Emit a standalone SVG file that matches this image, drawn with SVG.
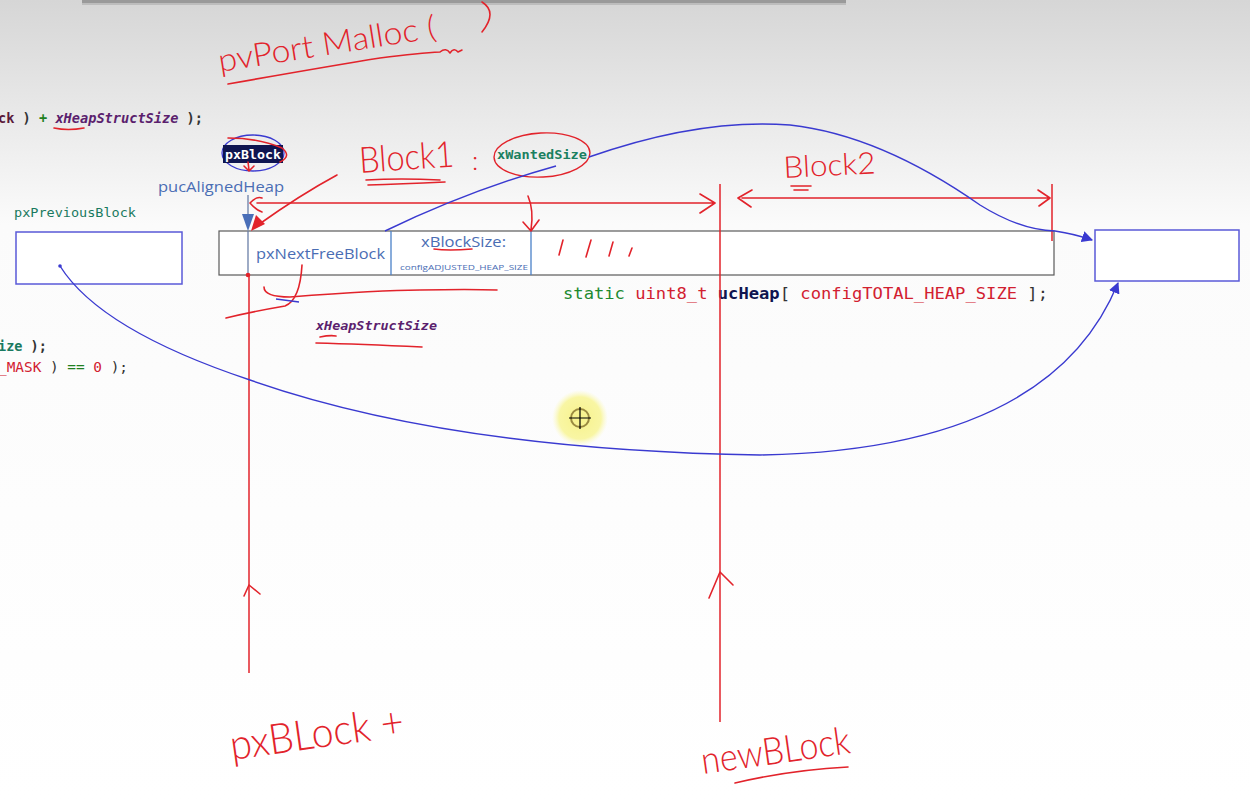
<svg xmlns="http://www.w3.org/2000/svg" width="1250" height="802" viewBox="0 0 1250 802">
<defs>
<linearGradient id="bg" x1="0" y1="0" x2="0" y2="1">
<stop offset="0" stop-color="#d6d6d6"/>
<stop offset="0.28" stop-color="#fbfbfb"/>
<stop offset="1" stop-color="#ffffff"/>
</linearGradient>
<radialGradient id="glow">
<stop offset="0" stop-color="#f7f28a"/>
<stop offset="0.75" stop-color="#f8f59a" stop-opacity="0.9"/>
<stop offset="1" stop-color="#fbf9c0" stop-opacity="0"/>
</radialGradient>
<marker id="blueHead" viewBox="0 0 10 10" refX="9" refY="5" markerWidth="8" markerHeight="8" orient="auto-start-reverse">
<path d="M0,0 L10,5 L0,10 z" fill="#3a3ad0"/>
</marker>
</defs>
<style>
.hand{font-family:"Lato","Liberation Sans",sans-serif;font-weight:300;fill:#e2232b;}
.code{font-family:"DejaVu Sans Mono","Liberation Mono",monospace;}
.sans{font-family:"Open Sans","Liberation Sans",sans-serif;fill:#4a6db4;}
.red{stroke:#e2232b;fill:none;stroke-width:1.6;stroke-linecap:round;stroke-linejoin:round;}
.blue{stroke:#3a3ad0;fill:none;stroke-width:1.4;}
.box{fill:#ffffff;stroke:#5a5ad8;stroke-width:1.5;}
</style>
<rect width="1250" height="802" fill="url(#bg)"/>
<rect x="82" y="0" width="764" height="3" fill="#9a9a9a"/>
<rect x="82" y="3" width="764" height="2" fill="#bdbdbd"/>

<!-- code fragments -->
<g id="code-top">
<text class="code" x="-2" y="123" font-size="13.5" font-weight="bold" textLength="205" lengthAdjust="spacingAndGlyphs"><tspan fill="#5a1a3a">ck</tspan><tspan fill="#333"> ) </tspan><tspan fill="#208020">+</tspan><tspan fill="#5b1f6e" font-style="italic"> xHeapStructSize</tspan><tspan fill="#333"> );</tspan></text>
<path class="red" d="M54,128 Q68,131 84,128"/>
</g>
<g id="code-left">
<text class="code" x="-2" y="351" font-size="13.5" font-weight="bold"><tspan fill="#1a7a60">ize</tspan><tspan fill="#333"> );</tspan></text>
<text class="code" x="-2" y="372" font-size="13.5" textLength="130" lengthAdjust="spacingAndGlyphs"><tspan fill="#d22030">_MASK</tspan><tspan fill="#333"> ) </tspan><tspan fill="#208020">==</tspan><tspan fill="#d22030"> 0</tspan><tspan fill="#333"> );</tspan></text>
</g>

<!-- handwritten title -->
<g id="title">
<text class="hand" x="220" y="72" font-size="32" transform="rotate(-9 220 72)" textLength="220" lengthAdjust="spacingAndGlyphs">pvPort Malloc (</text>
<path class="red" d="M482,2 Q498,12 482,32"/>
<path class="red" d="M228,84 Q330,66 380,58 Q420,53 440,52 Q446,47 450,53 Q454,47 458,52 L462,50"/>
</g>

<!-- pxBlock -->
<g id="pxBlock">
<ellipse cx="253" cy="153" rx="31" ry="18" fill="none" stroke="#3a3ad0" stroke-width="1.3"/>
<rect x="223" y="145" width="60" height="18" fill="#0f1550"/>
<text class="code" x="225" y="158.5" font-size="13" fill="#ffffff" font-weight="bold" textLength="56" lengthAdjust="spacingAndGlyphs">pxBlock</text>
<path class="red" d="M228,138 Q258,138 282,148 Q292,156 280,162"/>
<path class="red" d="M248,162 L249,170 M244,166 L249,171 L254,166"/>
</g>
<g id="pucAlignedHeap">
<text class="sans" x="158" y="192" font-size="15" textLength="126" lengthAdjust="spacingAndGlyphs">pucAlignedHeap</text>
</g>
<g id="pxPreviousBlock-label">
<text class="code" x="14" y="217" font-size="12.5" fill="#1a7a60" textLength="122" lengthAdjust="spacingAndGlyphs">pxPreviousBlock</text>
</g>
<g id="pxPreviousBlock">
<rect class="box" x="16" y="232" width="166" height="52"/>
</g>
<g id="nextBlock">
<rect class="box" x="1095" y="230" width="144" height="51"/>
</g>

<!-- heap box -->
<g id="ucHeap">
<rect x="219" y="231" width="835" height="44" fill="#ffffff" stroke="#5a5a5a" stroke-width="1.2"/>
<line x1="248" y1="231" x2="248" y2="275" stroke="#6a7fa8" stroke-width="1.3"/>
<line x1="391" y1="231" x2="391" y2="275" stroke="#4a80c8" stroke-width="1.3"/>
<line x1="531" y1="231" x2="531" y2="275" stroke="#4a80c8" stroke-width="1.3"/>
<text class="sans" x="256" y="259" font-size="15" textLength="129" lengthAdjust="spacingAndGlyphs">pxNextFreeBlock</text>
<text class="sans" x="421" y="247" font-size="15" textLength="85" lengthAdjust="spacingAndGlyphs">xBlockSize:</text>
<text class="sans" x="400" y="270" font-size="8" textLength="128" lengthAdjust="spacingAndGlyphs">configADJUSTED_HEAP_SIZE</text>
<path class="red" d="M434,249 Q448,251 472,249" stroke-width="1.3"/>
</g>
<g id="ucHeap-decl">
<text class="code" x="563" y="299" font-size="16" textLength="485" lengthAdjust="spacingAndGlyphs"><tspan fill="#1e8a30">static </tspan><tspan fill="#d22030">uint8_t </tspan><tspan fill="#0f1550" font-weight="bold">ucHeap</tspan><tspan fill="#333">[ </tspan><tspan fill="#d22030">configTOTAL_HEAP_SIZE</tspan><tspan fill="#333"> ];</tspan></text>
</g>
<g id="xHeapStructSize">
<text class="code" x="316" y="330" font-size="12.5" font-weight="bold" font-style="italic" fill="#5b1f6e" textLength="121" lengthAdjust="spacingAndGlyphs">xHeapStructSize</text>
<path class="red" d="M320,337 Q330,335 336,336 M316,343 Q360,344 422,347"/>
</g>

<!-- handwritten labels -->
<g id="block1">
<text class="hand" x="360" y="173" font-size="36" transform="rotate(-4 360 173)" textLength="95" lengthAdjust="spacingAndGlyphs">Block1</text>
<text class="hand" x="472" y="170" font-size="26">:</text>
<path class="red" d="M366,180 Q400,178 440,180 M368,185 Q400,184 445,182"/>
</g>
<g id="xWantedSize">
<ellipse cx="542" cy="155" rx="48" ry="22" fill="none" stroke="#e2232b" stroke-width="1.4" transform="rotate(-3 542 155)"/>
<text class="code" x="497" y="159" font-size="12" font-weight="bold" fill="#1a8060" textLength="90" lengthAdjust="spacingAndGlyphs">xWantedSize</text>
</g>
<g id="block2">
<text class="hand" x="784" y="178" font-size="30" transform="rotate(-3 784 178)" textLength="92" lengthAdjust="spacingAndGlyphs">Block2</text>
<path class="red" d="M791,186 L811,186 M794,190 L808,190"/>
</g>
<g id="pxBlockPlus">
<text class="hand" x="232" y="760" font-size="42" transform="rotate(-8 232 760)" textLength="175" lengthAdjust="spacingAndGlyphs">pxBLock +</text>
</g>
<g id="newBlock">
<text class="hand" x="703" y="774" font-size="38" transform="rotate(-8 703 774)" textLength="150" lengthAdjust="spacingAndGlyphs">newBLock</text>
<path class="red" d="M735,783 Q790,770 848,767"/>
</g>
<g id="scribbles">
<path class="red" d="M563,240 L559,255 M591,240 L586,257 M613,242 L609,256 M632,248 L629,256"/>
</g>
<g id="cursor">
<circle cx="580" cy="418" r="28" fill="url(#glow)"/>
<circle cx="580" cy="418" r="9" fill="none" stroke="#9a8a40" stroke-width="2"/>
<path d="M580,407 V429 M569,418 H591" stroke="#000" stroke-width="1.2"/>
</g>

<!-- connectors -->
<g id="connectors">
<line x1="248" y1="195" x2="248" y2="216" stroke="#6a7fa8" stroke-width="1.3"/>
<path d="M242,214 L254,214 L248,231 z" fill="#4a6fb8"/>
<path class="red" d="M337,175 Q300,195 258,225" stroke-width="2"/>
<path d="M251,231 L256,215 L265,224 z" fill="#e2232b"/>
<path class="red" d="M257,203 L713,203 M250,203 Q256,196 262,198 M250,203 Q256,210 262,212 M700,194 L715,203 L700,213" stroke-width="1.4"/>
<path class="red" d="M528,196 Q534,210 531,230 M523,222 L531,231 M539,220 L531,231" stroke-width="1.3"/>
<line x1="720" y1="184" x2="720" y2="722" stroke="#e2232b" stroke-width="1.5"/>
<path class="red" d="M709,598 L720,572 L733,585"/>
<line x1="1052" y1="184" x2="1052" y2="241" stroke="#e2232b" stroke-width="1.5"/>
<path class="red" d="M742,198 L1050,198 M752,190 L738,198 L751,207 M1038,190 L1050,198 L1039,206" stroke-width="1.4"/>
<line x1="249" y1="275" x2="249" y2="673" stroke="#e2232b" stroke-width="1.5"/>
<circle cx="248" cy="275" r="2.3" fill="#e2232b"/>
<path class="red" d="M244,596 L249,585 L260,594"/>
<path class="red" d="M264,287 Q264,297 290,297 Q380,290 420,290 Q470,289 497,290"/>
<path class="red" d="M302,265 Q300,300 285,306 Q250,312 226,318"/>
<path d="M276,299 L299,302" stroke="#3a3ad0" stroke-width="1.3"/>
<path class="blue" d="M385,231 Q470,190 556,166"/>
<path class="blue" d="M589,157 Q700,118 790,125 Q880,135 980,205 Q1020,230 1055,231 Q1075,234 1092,240" marker-end="url(#blueHead)"/>
<path class="blue" d="M60,266 Q100,330 250,380 Q450,450 760,455 Q1050,450 1118,283" marker-end="url(#blueHead)"/>
<circle cx="60" cy="266" r="1.8" fill="#3a3ad0"/>
</g>
</svg>
